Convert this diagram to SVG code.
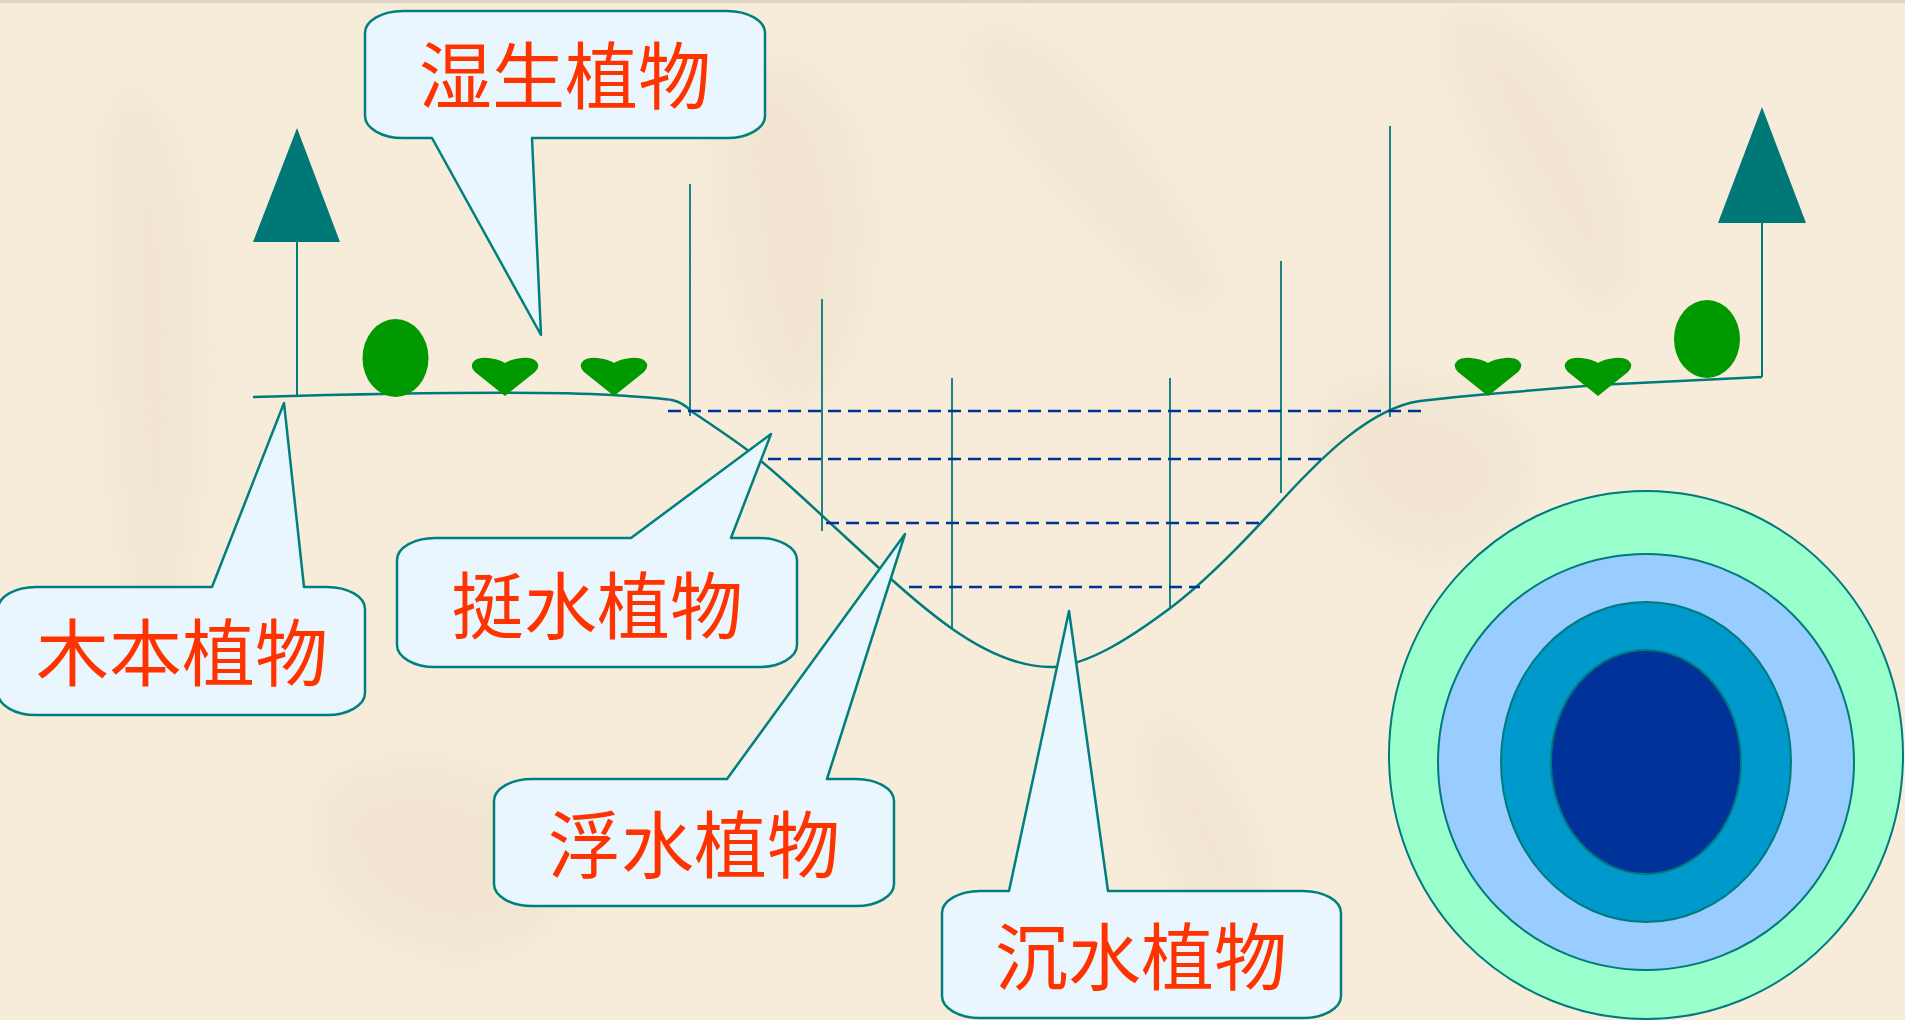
<svg xmlns="http://www.w3.org/2000/svg" width="1905" height="1020" viewBox="0 0 1905 1020">
  <defs>
    <style>
      .callout { fill: #EAF6FE; stroke: #007F7F; stroke-width: 2.5; stroke-linejoin: round; }
      .label { font-family: "Noto Sans CJK SC", "Noto Sans CJK JP", sans-serif; font-size: 73px; fill: #FF3300; text-anchor: middle; }
      .ground { fill: none; stroke: #007B7B; stroke-width: 2.5; }
      .stem { stroke: #007B7B; stroke-width: 2; fill: none; }
      .depth { stroke: #007B7B; stroke-width: 1.8; }
      .water { stroke: #003399; stroke-width: 2.5; stroke-dasharray: 13 7; }
      .tree { fill: #007878; }
      .plant { fill: #009900; }
      .ring { stroke: #007B7B; stroke-width: 2; }
      .wash { fill: #EFE3CF; }
    </style>
    <filter id="soft" x="-20%" y="-20%" width="140%" height="140%">
      <feGaussianBlur stdDeviation="16"/>
    </filter>
    <path id="heart" d="M0,38 L-30,14 Q-36,8 -31,3 Q-26,-1 -17,0 Q-6,1 0,5 Q6,1 17,0 Q26,-1 31,3 Q36,8 30,14 Z"/>
  </defs>

  <!-- paper background with faint brush wash -->
  <rect x="0" y="0" width="1905" height="1020" fill="#F7ECDA"/>
  <rect x="0" y="0" width="1905" height="3" fill="#DCD3C4"/>
  <g class="wash" filter="url(#soft)" opacity="0.6">
    <path d="M120,90 C170,80 200,200 205,320 C210,450 190,600 160,660 C130,640 110,500 105,380 C100,250 95,120 120,90 Z"/>
    <path d="M740,60 C820,40 880,120 870,260 C860,360 820,420 780,400 C740,380 720,250 715,160 C712,100 720,70 740,60 Z"/>
    <path d="M980,30 C1050,20 1130,120 1200,240 C1240,300 1210,330 1170,300 C1100,240 1020,150 975,80 C960,55 965,35 980,30 Z"/>
    <path d="M1450,10 C1520,0 1600,80 1630,200 C1650,290 1620,330 1580,300 C1530,250 1470,140 1445,60 C1438,35 1440,15 1450,10 Z"/>
    <path d="M1330,390 C1400,360 1500,380 1530,440 C1550,500 1500,560 1430,560 C1360,555 1320,500 1320,450 C1320,420 1322,400 1330,390 Z"/>
    <path d="M330,780 C400,740 520,760 560,830 C590,900 540,960 460,960 C380,955 320,900 315,850 C312,815 318,790 330,780 Z"/>
    <path d="M1150,720 C1180,700 1230,760 1260,840 C1280,900 1260,960 1230,950 C1190,930 1160,860 1145,800 C1138,760 1140,730 1150,720 Z"/>
  </g>

  <!-- terrain profile and water levels -->
  <g id="connectors">
    <path class="ground" d="M253,397 C400,393 540,391 612,395 C640,397 660,398 672,400 Q684,403 691,411 C712,425 733,439 750,452 C770,468 790,486 803,498 L879,568 C905,592 930,613 951,628 C985,652 1020,668 1054,667 C1090,664 1130,638 1169,609 C1208,580 1250,535 1285,497 C1320,459 1370,408 1420,401 C1445,398 1465,396 1489,394 L1597,385 L1762,377"/>
    <line class="stem" x1="297" y1="242" x2="297" y2="397"/>
    <line class="stem" x1="1762" y1="223" x2="1762" y2="377"/>
    <line class="depth" x1="690" y1="184" x2="690" y2="416"/>
    <line class="depth" x1="822" y1="299" x2="822" y2="531"/>
    <line class="depth" x1="952" y1="378" x2="952" y2="628"/>
    <line class="depth" x1="1170" y1="378" x2="1170" y2="607"/>
    <line class="depth" x1="1281" y1="261" x2="1281" y2="493"/>
    <line class="depth" x1="1390" y1="126" x2="1390" y2="417"/>
    <line class="water" x1="668" y1="411" x2="1422" y2="411"/>
    <line class="water" x1="768" y1="459" x2="1324" y2="459"/>
    <line class="water" x1="826" y1="523" x2="1264" y2="523"/>
    <line class="water" x1="909" y1="587" x2="1200" y2="587"/>
  </g>

  <!-- plants on the banks -->
  <g id="tree-left"><polygon class="tree" points="297,128 340,242 253,242"/></g>
  <g id="tree-right"><polygon class="tree" points="1762,107 1806,223 1718,223"/></g>
  <g id="shrub-left"><ellipse class="plant" cx="395.5" cy="358" rx="33" ry="39"/></g>
  <g id="shrub-right"><ellipse class="plant" cx="1707" cy="339" rx="33" ry="39"/></g>
  <g id="herb-left-1"><use href="#heart" class="plant" x="505" y="358"/></g>
  <g id="herb-left-2"><use href="#heart" class="plant" x="614" y="358"/></g>
  <g id="herb-right-1"><use href="#heart" class="plant" x="1488" y="358"/></g>
  <g id="herb-right-2"><use href="#heart" class="plant" x="1598" y="358"/></g>

  <!-- zonation rings -->
  <g id="zonation">
    <ellipse class="ring" cx="1646" cy="755" rx="257" ry="264" fill="#99FFCC"/>
    <ellipse class="ring" cx="1646" cy="762" rx="208" ry="208" fill="#99CCFF"/>
    <ellipse class="ring" cx="1646" cy="762" rx="145" ry="160" fill="#0099CC"/>
    <ellipse class="ring" cx="1646" cy="762" rx="95" ry="112" fill="#003399"/>
  </g>

  <!-- callouts -->
  <g id="callout-wetland">
    <path class="callout" d="M403,11 H727 A38,22 0 0 1 765,33 V116 A38,22 0 0 1 727,138 H532 L541,335 L432,138 H403 A38,22 0 0 1 365,116 V33 A38,22 0 0 1 403,11 Z"/>
    <text class="label" x="565" y="103">湿生植物</text>
  </g>
  <g id="callout-woody">
    <path class="callout" d="M36,587 H212 L284,403 L304,587 H327 A38,22 0 0 1 365,609 V693 A38,22 0 0 1 327,715 H36 A38,22 0 0 1 -2,693 V609 A38,22 0 0 1 36,587 Z"/>
    <text class="label" x="182" y="680">木本植物</text>
  </g>
  <g id="callout-emergent">
    <path class="callout" d="M435,538 H631 L771,434 L731,538 H759 A38,22 0 0 1 797,560 V645 A38,22 0 0 1 759,667 H435 A38,22 0 0 1 397,645 V560 A38,22 0 0 1 435,538 Z"/>
    <text class="label" x="597" y="633">挺水植物</text>
  </g>
  <g id="callout-floating">
    <path class="callout" d="M532,779 H727 L905,534 L827,779 H856 A38,22 0 0 1 894,801 V884 A38,22 0 0 1 856,906 H532 A38,22 0 0 1 494,884 V801 A38,22 0 0 1 532,779 Z"/>
    <text class="label" x="694" y="872">浮水植物</text>
  </g>
  <g id="callout-submerged">
    <path class="callout" d="M980,891 H1009 L1069,611 L1108,891 H1303 A38,22 0 0 1 1341,913 V996 A38,22 0 0 1 1303,1018 H980 A38,22 0 0 1 942,996 V913 A38,22 0 0 1 980,891 Z"/>
    <text class="label" x="1141" y="984">沉水植物</text>
  </g>
</svg>
